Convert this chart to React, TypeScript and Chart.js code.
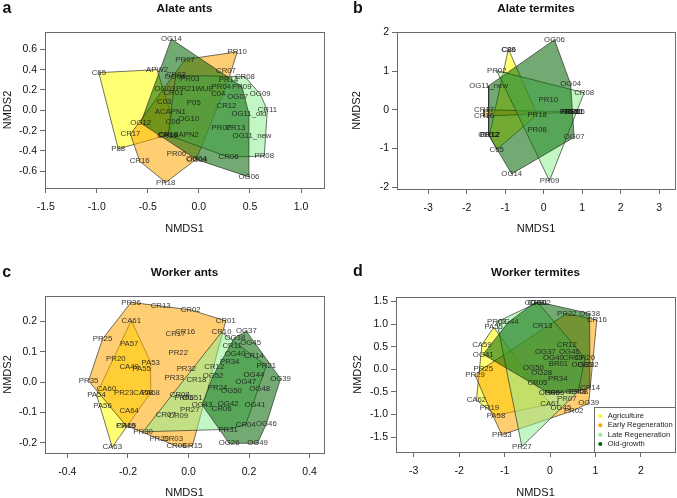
import React, { useEffect, useRef } from "react";
import { Chart, registerables } from "chart.js";

Chart.register(...registerables);

const FONT = '"Liberation Sans", Arial, Helvetica, sans-serif';

const groupNames = ["Agriculture", "Early Regeneration", "Late Regeneration", "Old-growth"];
const groupFill = ["rgba(255,255,0,0.55)", "rgba(255,165,0,0.55)", "rgba(144,238,144,0.55)", "rgba(0,100,0,0.55)"];
const groupDot = ["#ffff00", "#ffa500", "#90ee90", "#006400"];

// ---- a: alate ants ----
const alateAntSites = ["C65", "APW2", "P88", "C03", "ACAPN1", "C06", "CR10",
  "PR07", "PR10", "CR07", "PR14", "PR21WUE", "CR17", "CR16", "PR18", "PR06", "OG04",
  "CR08", "OG09", "CR11", "PR08", "CR06", "PR02", "PR13", "OG11_new", "PR03", "CR01", "CR02", "CR18",
  "OG14", "OG04", "OG03", "OG12", "CR19", "APN2", "OG10", "OG04", "OG06", "OG07", "PR09", "PR04", "C04", "P05", "CR12", "OG11_old"];
const alateAntX = [-0.98, -0.41, -0.79, -0.34, -0.28, -0.255, -0.3,
  -0.135, 0.375, 0.265, 0.29, -0.04, -0.67, -0.58, -0.325, -0.22, -0.025,
  0.45, 0.6, 0.67, 0.64, 0.29, 0.22, 0.36, 0.52, -0.09, -0.25, -0.225, -0.3,
  -0.27, -0.235, -0.335, -0.57, -0.31, -0.1, -0.1, -0.02, 0.49, 0.38, 0.42, 0.22, 0.19, -0.05, 0.27, 0.49];
const alateAntY = [0.37, 0.4, -0.38, 0.085, -0.02, -0.115, -0.24,
  0.5, 0.575, 0.385, 0.3, 0.21, -0.235, -0.5, -0.71, -0.43, -0.48,
  0.33, 0.16, 0.0, -0.45, -0.46, -0.17, -0.175, -0.25, 0.31, 0.17, 0.345, -0.245,
  0.7, 0.33, 0.21, -0.125, -0.25, -0.24, -0.08, -0.485, -0.655, 0.135, 0.235, 0.23, 0.165, 0.07, 0.04, -0.035];
const alateAntGroup = [0, 0, 0, 0, 0, 0, 0,
  1, 1, 1, 1, 1, 1, 1, 1, 1, 1,
  2, 2, 2, 2, 2, 2, 2, 2, 2, 2, 2, 2,
  3, 3, 3, 3, 3, 3, 3, 3, 3, 3, 3, 3, 3, 3, 3, 3];
const alateAntXTicks = [-1.5, -1, -0.5, 0, 0.5, 1];
const alateAntXLabels = ["-1.5", "-1.0", "-0.5", "0.0", "0.5", "1.0"];
const alateAntYTicks = [-0.6, -0.4, -0.2, 0, 0.2, 0.4, 0.6];
const alateAntYLabels = ["-0.6", "-0.4", "-0.2", "0.0", "0.2", "0.4", "0.6"];

// ---- b: alate termites ----
const alateTermSites = ["C88", "C86", "C65", "PR12", "PR18",
  "CR17", "CR16", "PR11",
  "PR02", "CR08", "PR09", "PR10", "PR08", "CR05", "PR06",
  "OG06", "OG04", "OG10", "OG07", "OG14", "OG12", "CR12", "OG11_new", "PR15"];
const alateTermX = [-0.92, -0.905, -1.22, -1.41, -0.17,
  -1.55, -1.55, 0.79,
  -1.22, 1.05, 0.15, 0.12, -0.17, 0.81, 0.7,
  0.28, 0.7, 0.74, 0.79, -0.83, -1.43, -1.39, -1.43, 0.66];
const alateTermY = [1.55, 1.545, -1.03, -0.66, -0.13,
  0.0, -0.17, -0.06,
  1.01, 0.44, -1.84, 0.26, -0.52, -0.05, -0.06,
  1.81, 0.66, -0.06, -0.71, -1.66, -0.66, -0.66, 0.62, -0.06];
const alateTermGroup = [0, 0, 0, 0, 0,
  1, 1, 1,
  2, 2, 2, 2, 2, 2, 2,
  3, 3, 3, 3, 3, 3, 3, 3, 3];
const alateTermXTicks = [-3, -2, -1, 0, 1, 2, 3];
const alateTermXLabels = ["-3", "-2", "-1", "0", "1", "2", "3"];
const alateTermYTicks = [-2, -1, 0, 1, 2];
const alateTermYLabels = ["-2", "-1", "0", "1", "2"];

// ---- c: worker ants ----
const workerAntSites = ["CA61", "PA57", "CA49", "PA53", "PA55", "CA58", "PA68", "CA60", "PA54", "PA56", "CA64", "CA65", "CA63",
  "PR36", "CR13", "CR02", "CR01", "CR16", "CR17", "PR25", "PR22", "PR20", "PR32", "PR33", "PR35", "PR23", "PR19", "PR29", "CR03", "CR05", "CR15",
  "CR10", "CR11", "PR21", "CR04", "PR31", "PR30", "PR27", "CR08", "CR07", "CR09", "CR18", "CR12", "PR24", "PR34", "PR06", "OG51",
  "OG37", "OG38", "OG45", "OG40", "CR14", "OG52", "OG44", "OG39", "OG47", "OG48", "OG50", "OG43", "OG42", "CR06", "OG41", "OG46", "OG26", "OG49"];
const workerAntX = [-0.189, -0.196, -0.196, -0.125, -0.155, -0.15, -0.125, -0.271, -0.304, -0.284, -0.196, -0.205, -0.252,
  -0.19, -0.092, 0.007, 0.123, -0.011, -0.043, -0.284, -0.034, -0.24, -0.007, -0.047, -0.33, -0.214, -0.207, -0.097, -0.051, -0.04, 0.013,
  0.109, 0.144, 0.257, 0.189, 0.131, -0.15, 0.004, -0.029, -0.075, -0.034, 0.026, 0.085, 0.096, 0.136, -0.015, 0.012,
  0.191, 0.153, 0.205, 0.154, 0.216, 0.081, 0.216, 0.304, 0.189, 0.235, 0.142, 0.045, 0.131, 0.109, 0.219, 0.257, 0.134, 0.228];
const workerAntY = [0.203, 0.125, 0.049, 0.065, 0.045, -0.034, -0.035, -0.021, -0.041, -0.08, -0.095, -0.145, -0.215,
  0.263, 0.251, 0.238, 0.202, 0.166, 0.158, 0.142, 0.098, 0.078, 0.045, 0.014, 0.004, -0.037, -0.143, -0.188, -0.186, -0.211, -0.211,
  0.165, 0.12, 0.054, -0.14, -0.156, -0.164, -0.091, -0.041, -0.109, -0.112, 0.008, 0.05, -0.019, 0.067, -0.053, -0.053,
  0.168, 0.147, 0.128, 0.092, 0.087, 0.021, 0.023, 0.011, 0.001, -0.022, -0.029, -0.075, -0.072, -0.088, -0.074, -0.138, -0.202, -0.202];
const workerAntGroup = [0, 0, 0, 0, 0, 0, 0, 0, 0, 0, 0, 0, 0,
  1, 1, 1, 1, 1, 1, 1, 1, 1, 1, 1, 1, 1, 1, 1, 1, 1, 1,
  2, 2, 2, 2, 2, 2, 2, 2, 2, 2, 2, 2, 2, 2, 2, 2,
  3, 3, 3, 3, 3, 3, 3, 3, 3, 3, 3, 3, 3, 3, 3, 3, 3, 3];
const workerAntXTicks = [-0.4, -0.2, 0, 0.2, 0.4];
const workerAntXLabels = ["-0.4", "-0.2", "0.0", "0.2", "0.4"];
const workerAntYTicks = [-0.2, -0.1, 0, 0.1, 0.2];
const workerAntYLabels = ["-0.2", "-0.1", "0.0", "0.1", "0.2"];

// ---- d: worker termites ----
const workerTermSites = ["PA55", "CA59", "CA62", "PA58", "CA61",
  "PR22", "PR25", "PR29", "PR19", "PR33", "PR02", "PR07", "CR16", "PR34", "OG39", "PR06",
  "PR03", "CR01", "CR20", "CR08", "OG45", "PR27", "CR13", "CR12", "CR05", "BR01", "CR09",
  "OG01", "OG02", "OG38", "OG32", "CR14", "OG48", "OG06", "OG41", "OG44", "OG37", "OG46", "OG40", "OG50", "OG28", "OG35"];
const workerTermX = [-1.24, -1.5, -1.62, -1.19, 0.0,
  0.37, -1.47, -1.65, -1.335, -1.06, 0.52, 0.37, 1.03, 0.17, 0.85, 0.1,
  -1.17, -0.27, 0.77, 0.62, 0.24, -0.62, -0.167, 0.368, -0.278, 0.185, 0.5,
  -0.33, -0.21, 0.87, 0.84, 0.88, 0.57, -0.02, -1.47, -0.92, -0.101, 0.427, 0.075, -0.366, -0.183, 0.7];
const workerTermY = [0.93, 0.54, -0.68, -1.02, -0.77,
  1.235, 0.02, -0.13, -0.86, -1.45, -0.91, -0.655, 1.09, -0.214, -0.75, -0.53,
  1.05, 1.48, 0.243, -0.49, -0.85, -1.71, 0.97, 0.551, -0.309, 0.124, 0.25,
  1.48, 1.48, 1.235, 0.095, -0.405, -0.49, -0.53, 0.33, 1.04, 0.388, 0.388, 0.256, 0.035, -0.088, 0.095];
const workerTermGroup = [0, 0, 0, 0, 0,
  1, 1, 1, 1, 1, 1, 1, 1, 1, 1, 1,
  2, 2, 2, 2, 2, 2, 2, 2, 2, 2, 2,
  3, 3, 3, 3, 3, 3, 3, 3, 3, 3, 3, 3, 3, 3, 3];
const workerTermXTicks = [-3, -2, -1, 0, 1, 2];
const workerTermXLabels = ["-3", "-2", "-1", "0", "1", "2"];
const workerTermYTicks = [-1.5, -1, -0.5, 0, 0.5, 1, 1.5];
const workerTermYLabels = ["-1.5", "-1.0", "-0.5", "0.0", "0.5", "1.0", "1.5"];

type Pt = { x: number; y: number };

type PanelSpec = {
  key: string;
  letter: string;
  title: string;
  left: number;
  top: number;
  width: number;
  height: number;
  area: [number, number, number, number];
  xRange: [number, number];
  yRange: [number, number];
  xTicks: number[];
  xLabels: string[];
  yTicks: number[];
  yLabels: string[];
  sites: string[];
  xs: number[];
  ys: number[];
  groups: number[];
  titleY: number;
  letterX: number;
  letterY: number;
  yTitleX: number;
  xTitleY: number;
  legend?: { left: number; top: number; rowY: number[]; dotX: number; textX: number };
};

const panels: PanelSpec[] = [
  {
    key: "a", letter: "a", title: "Alate ants",
    left: 0, top: 0, width: 338, height: 245,
    area: [45, 32, 324, 188], xRange: [-1.507, 1.225], yRange: [-0.764, 0.77],
    xTicks: alateAntXTicks, xLabels: alateAntXLabels, yTicks: alateAntYTicks, yLabels: alateAntYLabels,
    sites: alateAntSites, xs: alateAntX, ys: alateAntY, groups: alateAntGroup,
    titleY: 9, letterX: 7, letterY: 9, yTitleX: 7.5, xTitleY: 229,
  },
  {
    key: "b", letter: "b", title: "Alate termites",
    left: 338, top: 0, width: 339, height: 245,
    area: [59, 32, 337, 189], xRange: [-3.81, 3.41], yRange: [-2.05, 2.01],
    xTicks: alateTermXTicks, xLabels: alateTermXLabels, yTicks: alateTermYTicks, yLabels: alateTermYLabels,
    sites: alateTermSites, xs: alateTermX, ys: alateTermY, groups: alateTermGroup,
    titleY: 9, letterX: 20, letterY: 8.5, yTitleX: 19, xTitleY: 229,
  },
  {
    key: "c", letter: "c", title: "Worker ants",
    left: 0, top: 245, width: 338, height: 253,
    area: [45, 51, 324, 208], xRange: [-0.474, 0.4475], yRange: [-0.234, 0.284],
    xTicks: workerAntXTicks, xLabels: workerAntXLabels, yTicks: workerAntYTicks, yLabels: workerAntYLabels,
    sites: workerAntSites, xs: workerAntX, ys: workerAntY, groups: workerAntGroup,
    titleY: 27.3, letterX: 6.7, letterY: 28, yTitleX: 7.5, xTitleY: 248.3,
  },
  {
    key: "d", letter: "d", title: "Worker termites",
    left: 338, top: 245, width: 339, height: 253,
    area: [58, 52, 337, 207], xRange: [-3.39, 2.75], yRange: [-1.83, 1.6],
    xTicks: workerTermXTicks, xLabels: workerTermXLabels, yTicks: workerTermYTicks, yLabels: workerTermYLabels,
    sites: workerTermSites, xs: workerTermX, ys: workerTermY, groups: workerTermGroup,
    titleY: 27.3, letterX: 20, letterY: 27, yTitleX: 20, xTitleY: 248.3,
    legend: { left: 255.7, top: 161.7, rowY: [171, 180.3, 189.7, 199], dotX: 262.3, textX: 269.7 },
  },
];

// Andrew's monotone chain: convex hull of one group's site scores
function convexHull(pts: Pt[]): Pt[] {
  const p = [...pts].sort((a, b) => a.x - b.x || a.y - b.y);
  if (p.length < 3) return p;
  const cross = (o: Pt, a: Pt, b: Pt) => (a.x - o.x) * (b.y - o.y) - (a.y - o.y) * (b.x - o.x);
  const lower: Pt[] = [];
  for (const q of p) {
    while (lower.length >= 2 && cross(lower[lower.length - 2], lower[lower.length - 1], q) <= 0) lower.pop();
    lower.push(q);
  }
  const upper: Pt[] = [];
  for (let i = p.length - 1; i >= 0; i--) {
    const q = p[i];
    while (upper.length >= 2 && cross(upper[upper.length - 2], upper[upper.length - 1], q) <= 0) upper.pop();
    upper.push(q);
  }
  lower.pop();
  upper.pop();
  return lower.concat(upper);
}

function buildConfig(p: PanelSpec): any {
  const [aL, aT, aR, aB] = p.area;
  const datasets = groupNames.map((name, g) => {
    const pts: Pt[] = [];
    p.groups.forEach((gg, i) => {
      if (gg === g) pts.push({ x: p.xs[i], y: p.ys[i] });
    });
    const hull = convexHull(pts);
    return {
      label: name,
      data: hull.length ? [...hull, hull[0]] : [],
      borderColor: "rgba(35,35,35,0.8)",
      borderWidth: 0.8,
      backgroundColor: groupFill[g],
      fill: "shape",
      pointRadius: 0,
      pointHoverRadius: 0,
      tension: 0,
      order: 3 - g,
    };
  });

  const decor = {
    id: "nmdsDecor",
    afterDatasetsDraw(chart: any) {
      const ctx = chart.ctx;
      const a = chart.chartArea;
      const xs = chart.scales.x;
      const ys = chart.scales.y;
      ctx.save();
      ctx.font = `7.8px ${FONT}`;
      ctx.fillStyle = "rgba(25,25,25,0.88)";
      ctx.textAlign = "center";
      ctx.textBaseline = "middle";
      p.sites.forEach((s, i) => {
        ctx.fillText(s, xs.getPixelForValue(p.xs[i]), ys.getPixelForValue(p.ys[i]));
      });
      ctx.strokeStyle = "#6a6a6a";
      ctx.lineWidth = 1;
      ctx.strokeRect(Math.round(a.left) + 0.5, Math.round(a.top) + 0.5, Math.round(a.right - a.left), Math.round(a.bottom - a.top));
      ctx.restore();
    },
    afterDraw(chart: any) {
      const ctx = chart.ctx;
      const a = chart.chartArea;
      const cx = (a.left + a.right) / 2;
      const cy = (a.top + a.bottom) / 2;
      ctx.save();
      ctx.fillStyle = "#111";
      ctx.textAlign = "center";
      ctx.textBaseline = "middle";
      ctx.font = `bold 11.7px ${FONT}`;
      ctx.fillText(p.title, cx, p.titleY);
      ctx.font = `bold 16px ${FONT}`;
      ctx.fillText(p.letter, p.letterX, p.letterY);
      ctx.font = `11px ${FONT}`;
      ctx.fillText("NMDS1", cx, p.xTitleY);
      ctx.save();
      ctx.translate(p.yTitleX, cy);
      ctx.rotate(-Math.PI / 2);
      ctx.fillText("NMDS2", 0, 0);
      ctx.restore();
      if (p.legend) {
        const L = p.legend;
        ctx.strokeStyle = "#6a6a6a";
        ctx.lineWidth = 1;
        ctx.strokeRect(Math.round(L.left) + 0.5, Math.round(L.top) + 0.5, Math.round(a.right - L.left), Math.round(a.bottom - L.top));
        ctx.font = `7.6px ${FONT}`;
        ctx.textAlign = "left";
        groupNames.forEach((g, i) => {
          ctx.fillStyle = groupDot[i];
          ctx.beginPath();
          ctx.arc(L.dotX, L.rowY[i], 2, 0, Math.PI * 2);
          ctx.fill();
          ctx.fillStyle = "#222";
          ctx.fillText(g, L.textX, L.rowY[i]);
        });
      }
      ctx.restore();
    },
  };

  const tickFont = { family: FONT, size: 10.5 };
  return {
    type: "line",
    data: { datasets },
    options: {
      animation: false,
      responsive: false,
      maintainAspectRatio: false,
      devicePixelRatio: 1,
      events: [],
      layout: { padding: { left: 0, top: aT, right: p.width - aR, bottom: 0 } },
      plugins: { legend: { display: false }, tooltip: { enabled: false }, title: { display: false } },
      scales: {
        x: {
          type: "linear",
          min: p.xRange[0],
          max: p.xRange[1],
          afterFit: (s: any) => { s.height = p.height - aB; },
          afterBuildTicks: (s: any) => { s.ticks = p.xTicks.map((v) => ({ value: v })); },
          ticks: {
            callback: (_v: any, i: number) => p.xLabels[i],
            autoSkip: false,
            maxRotation: 0,
            padding: 8,
            font: tickFont,
            color: "#111",
          },
          grid: { drawOnChartArea: false, drawTicks: true, tickLength: 5, color: "#6a6a6a" },
          border: { display: false },
        },
        y: {
          type: "linear",
          min: p.yRange[0],
          max: p.yRange[1],
          afterFit: (s: any) => { s.width = aL; },
          afterBuildTicks: (s: any) => { s.ticks = p.yTicks.map((v) => ({ value: v })); },
          ticks: {
            callback: (_v: any, i: number) => p.yLabels[i],
            autoSkip: false,
            padding: 3,
            font: tickFont,
            color: "#111",
          },
          grid: { drawOnChartArea: false, drawTicks: true, tickLength: 5, color: "#6a6a6a" },
          border: { display: false },
        },
      },
    },
    plugins: [decor],
  };
}

function NmdsPanel({ spec }: { spec: PanelSpec }) {
  const ref = useRef<HTMLCanvasElement | null>(null);
  useEffect(() => {
    if (!ref.current) return;
    const chart = new Chart(ref.current, buildConfig(spec));
    return () => chart.destroy();
  }, [spec]);
  return (
    <canvas
      ref={ref}
      width={spec.width}
      height={spec.height}
      style={{ position: "absolute", left: spec.left, top: spec.top, width: spec.width, height: spec.height }}
    />
  );
}

export default function App() {
  return (
    <div style={{ position: "absolute", left: 0, top: 0, width: 677, height: 498, background: "#ffffff", overflow: "hidden" }}>
      {panels.map((p) => (
        <NmdsPanel key={p.key} spec={p} />
      ))}
    </div>
  );
}
